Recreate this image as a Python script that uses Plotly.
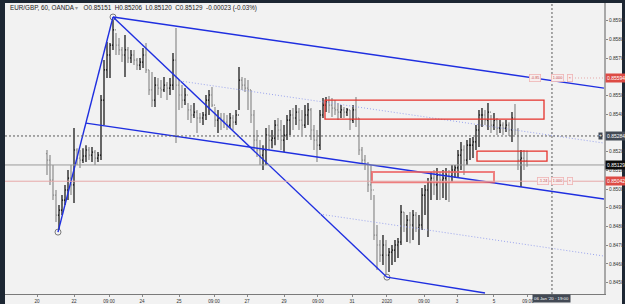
import plotly.graph_objects as go

# ---------------- data (prices in 1e-5 units) ----------------
bar_high = [85209,85182,85129,84995,84915,84968,85022,85102,85129,85326,
            85219,85209,85219,85235,85225,85225,85209,85198,85503,85690,
            85786,85781,85920,85835,85808,85760,85824,85760,85744,85744,
            85701,85701,85754,85781,85637,85626,85599,85594,85583,85599,
            85572,85594,85728,85861,85583,85556,85540,85460,85449,85460,
            85423,85407,85412,85503,85530,85546,85439,85423,85407,85407,
            85396,85407,85396,85423,85653,85599,85594,85583,85530,85423,
            85316,85262,85235,85326,85342,85316,85369,85380,85369,85342,
            85396,85423,85433,85449,85433,85423,85449,85460,85433,85342,
            85316,85423,85487,85492,85498,85487,85476,85460,85449,85439,
            85433,85423,85449,85492,85380,85225,85182,85145,85129,84968,
            84808,84728,84754,84728,84685,84701,84728,84738,84915,84877,
            84861,84877,84888,84877,84861,85006,85022,85059,85091,85102,
            85113,85091,85102,85113,85102,85129,85129,85209,85252,85235,
            85262,85273,85278,85342,85423,85433,85423,85460,85396,85407,
            85380,85369,85358,85369,85358,85412,85455,85326,85209,85209,
            85206]
bar_low = [85075,85022,84941,84824,84781,84861,84915,84941,84968,84925,
           85129,85113,85139,85145,85155,85145,85129,85145,85155,85342,
           85594,85594,85744,85717,85717,85679,85599,85674,85674,85663,
           85637,85637,85647,85621,85503,85439,85439,85503,85487,85519,
           85476,85503,85530,85246,85423,85433,85449,85369,85353,85380,
           85300,85353,85342,85369,85396,85439,85332,85300,85316,85326,
           85316,85326,85316,85342,85423,85530,85519,85423,85353,85209,
           85171,85129,85102,85129,85209,85219,85235,85262,85209,85198,
           85262,85289,85316,85342,85316,85289,85326,85342,85262,85209,
           85145,85209,85380,85412,85407,85385,85396,85369,85380,85380,
           85391,85316,85353,85332,85182,85139,85102,84984,84941,84728,
           84567,84610,84594,84535,84556,84594,84610,84631,84701,84770,
           84717,84711,84728,84770,84701,84781,84861,84744,84941,84968,
           84941,84941,84952,84941,84931,85038,85059,85064,85102,85075,
           85129,85155,85166,85209,85225,85332,85342,85316,85300,85316,
           85289,85300,85289,85305,85284,85252,85289,85102,85011,85102,
           85120]
bar_close = [85155,85048,84968,84861,84888,84941,84995,85059,85022,85209,
             85166,85155,85177,85209,85182,85198,85166,85182,85476,85637,
             85717,85770,85851,85770,85744,85717,85744,85701,85717,85690,
             85663,85679,85717,85637,85530,85476,85556,85540,85530,85556,
             85540,85556,85690,85556,85503,85476,85503,85423,85396,85412,
             85380,85380,85396,85476,85503,85449,85369,85380,85369,85358,
             85342,85380,85358,85396,85583,85556,85540,85530,85396,85262,
             85209,85182,85209,85289,85262,85273,85342,85316,85262,85289,
             85369,85396,85380,85412,85369,85342,85396,85423,85316,85262,
             85235,85396,85449,85465,85449,85433,85423,85412,85423,85412,
             85423,85369,85423,85380,85209,85155,85129,85022,84995,84754,
             84701,84647,84701,84647,84663,84674,84701,84717,84877,84808,
             84834,84808,84861,84792,84808,84968,84995,85038,85059,85022,
             85075,85048,85059,85075,85070,85102,85113,85182,85209,85155,
             85235,85235,85252,85316,85396,85396,85369,85412,85342,85369,
             85326,85342,85326,85342,85316,85380,85316,85155,85166,85151,
             85129]
first_open = 85190

x_tick_pos = [-3.33, 9, 20.67, 31.67, 44, 55.67, 66.67, 79, 90.33, 101.67,
              113.33, 125.67, 136.67, 149, 160.33]
x_tick_text = ["20", "22", "09:00", "24", "25", "09:00", "27", "29", "09:00", "31",
               "2020", "09:00", "3", "5", "09:00"]
y_ticks = [0.845, 0.846, 0.847, 0.848, 0.849, 0.850, 0.851, 0.852, 0.853,
           0.854, 0.855, 0.856, 0.857, 0.858, 0.859]

# drawings: (bar index, price)
trend_lines = [((3.67, 0.84770), (22, 0.85920)),
               ((22, 0.85920), (185.67, 0.85540)),
               ((22, 0.85920), (113.33, 0.84529)),
               ((113.33, 0.84529), (146, 0.84444)),
               ((13, 0.85353), (185.67, 0.84947))]
median_lines = [((44.33, 0.85578), (185.67, 0.85246)),
                ((91, 0.84866), (185.67, 0.84642))]
pivots_i = [3.67, 22, 113.33]
pivots_p = [0.84770, 0.85920, 0.84529]
rects = [(92.67, 165.67, 0.85374, 0.85476, "strong"),
         (108.33, 149, 0.85037, 0.85091, "soft"),
         (143.33, 166.67, 0.85150, 0.85203, "strong")]
last_price = 0.85129
alert_price = 0.85042
cross_price = 0.85284
upper_level = 0.85594
cross_bar = 168.33
cross_label = "06 Jan '20 · 19:00"
header_sym = "EUR/GBP, 60, OANDA"
header_ohlc = "O0.85151  H0.85206  L0.85120  C0.85129  -0.00023 (-0.03%)"

# ---------------- build ----------------
scale = 1e-5
high = [v * scale for v in bar_high]
low = [v * scale for v in bar_low]
close = [v * scale for v in bar_close]
opens = [first_open * scale] + close[:-1]
idx = list(range(len(close)))

W, H = 625, 304
ML, MR, MT, MB = 5, 21, 3, 10
PW, PH = W - ML - MR, H - MT - MB


def pxx(x):
    return (x - ML) / PW


def pxy(y):
    return (H - MB - y) / PH


fig = go.Figure()
fig.add_trace(go.Ohlc(x=idx, open=opens, high=high, low=low, close=close,
                      increasing=dict(line=dict(color="#0a0a0a", width=1.2)),
                      decreasing=dict(line=dict(color="#8c8c8c", width=1.2)),
                      tickwidth=0.35, hoverinfo="skip", showlegend=False))
fig.add_trace(go.Scatter(x=pivots_i, y=pivots_p, mode="markers",
                         marker=dict(size=6, color="#f4f4f4",
                                     line=dict(color="#7a7a7a", width=1)),
                         hoverinfo="skip", showlegend=False))

shapes = []
shapes.append(dict(type="rect", xref="paper", yref="paper", x0=pxx(5), x1=pxx(622),
                   y0=pxy(304), y1=pxy(3), fillcolor="#f2f2f2", line=dict(width=0),
                   layer="below"))
for (a, b) in trend_lines:
    shapes.append(dict(type="line", xref="x", yref="y", x0=a[0], y0=a[1], x1=b[0], y1=b[1],
                       line=dict(color="#1f2fe0", width=1.4)))
for (a, b) in median_lines:
    shapes.append(dict(type="line", xref="x", yref="y", x0=a[0], y0=a[1], x1=b[0], y1=b[1],
                       line=dict(color="#9aa4ee", width=1, dash="1px,2px")))
for (x0, x1, y0, y1, kind) in rects:
    col = "#e5322b" if kind == "strong" else "rgba(236,96,96,0.8)"
    wid = 1.3 if kind == "strong" else 2
    shapes.append(dict(type="rect", xref="x", yref="y", x0=x0, x1=x1, y0=y0, y1=y1,
                       line=dict(color=col, width=wid), fillcolor="rgba(0,0,0,0)"))
shapes.append(dict(type="line", xref="paper", yref="y", x0=0, x1=1, y0=last_price, y1=last_price,
                   line=dict(color="#9a9a9a", width=1)))
shapes.append(dict(type="line", xref="paper", yref="y", x0=0, x1=1, y0=alert_price, y1=alert_price,
                   line=dict(color="#e6a8a8", width=1)))
shapes.append(dict(type="line", xref="paper", yref="y", x0=0, x1=1, y0=cross_price, y1=cross_price,
                   line=dict(color="#5a5a5a", width=1, dash="2px,2px")))
shapes.append(dict(type="line", xref="x", yref="paper", x0=cross_bar, x1=cross_bar, y0=0, y1=1,
                   line=dict(color="#5a5a5a", width=1, dash="2px,2px")))
shapes.append(dict(type="line", xref="x", yref="y", x0=175, x1=185.67, y0=upper_level, y1=upper_level,
                   line=dict(color="#e6a8a8", width=1, dash="1px,2px")))

ann = []
ann.append(dict(xref="paper", yref="paper", x=pxx(8), y=pxy(8), xanchor="left", yanchor="middle",
                text=header_sym + " <span style='color:#999'>▾</span>   " + header_ohlc,
                showarrow=False, font=dict(size=6.3, color="#222", family="Liberation Sans")))


def price_label(p, bg, fg="#ffffff"):
    ann.append(dict(xref="paper", yref="y", x=pxx(605), y=p, xanchor="left", yanchor="middle",
                    text=f"{p:.5f}", showarrow=False, bgcolor=bg, borderpad=1,
                    font=dict(size=5, color=fg, family="Liberation Sans")))


price_label(upper_level, "#dd4b44")
price_label(cross_price, "#434a55")
price_label(last_price, "#0c0c0c")
price_label(alert_price, "#dd4b44")
ann.append(dict(xref="paper", yref="y", x=pxx(603), y=cross_price, xanchor="right", yanchor="middle",
                text="+", showarrow=False, bgcolor="#434a55", borderpad=0,
                font=dict(size=5, color="#ffffff")))
ann.append(dict(xref="x", yref="paper", x=cross_bar, y=pxy(298.5), xanchor="center", yanchor="middle",
                text=cross_label, showarrow=False, bgcolor="#434a55", borderpad=1,
                font=dict(size=4.3, color="#ffffff", family="Liberation Sans")))

for p, first, fx in ((upper_level, "-0.85", 162.67), (alert_price, "-1.24", 165.3)):
    for xi, t in ((fx, first), (170.33, "1.000"), (174.3, "×")):
        ann.append(dict(xref="x", yref="y", x=xi, y=p, xanchor="center", yanchor="middle",
                        text=t, showarrow=False, bgcolor="#f7eeee", bordercolor="#efb5b5",
                        borderwidth=0.8, borderpad=1,
                        font=dict(size=3.8, color="#c85050", family="Liberation Sans")))

# tick labels hidden behind the price-label boxes (as in the reference)
covered = {round(upper_level, 3), round(cross_price, 3)}
y_tick_text = ["" if round(v, 3) in covered else f"{v:.5f}" for v in y_ticks]

fig.update_layout(
    width=W, height=H,
    margin=dict(l=ML, r=MR, t=MT, b=MB),
    paper_bgcolor="#1d2733", plot_bgcolor="#f2f2f2",
    shapes=shapes, annotations=ann, showlegend=False,
    xaxis=dict(range=[-14, 185.67], tickvals=x_tick_pos, ticktext=x_tick_text,
               showgrid=False, zeroline=False, showline=True, linecolor="#7a7a7a", linewidth=1,
               ticks="outside", ticklen=2, tickcolor="#888", rangeslider=dict(visible=False),
               tickfont=dict(size=4.6, color="#333", family="Liberation Sans"), automargin=False),
    yaxis=dict(range=[0.84439, 0.85995], side="right", tickvals=y_ticks,
               ticktext=y_tick_text, showgrid=False, zeroline=False,
               showline=True, linecolor="#a8a8a8", linewidth=2, ticks="outside", ticklen=2,
               tickcolor="#888", tickfont=dict(size=4.8, color="#333", family="Liberation Sans"),
               automargin=False),
)

fig.write_html("out.html")
